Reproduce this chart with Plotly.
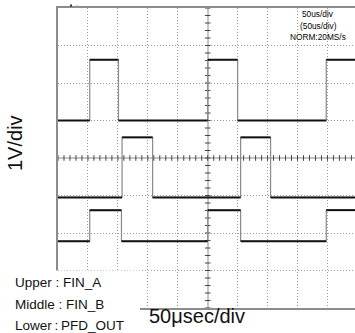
import numpy as np
import plotly.graph_objects as go

# ---- data: time in microseconds (50 us/div), voltage in volts (1 V/div) ----
T_START, T_END = -250, 246
upper_rise = [-197, 0, 198]
upper_fall = [-149, 50]
upper_levels = [1.0, 2.62]          # low, high
middle_rise = [-143, 55]
middle_fall = [-92, 105]
middle_levels = [-1.05, 0.55]
lower_rise = [-197, 0, 198]
lower_fall = [-144, 55]
lower_levels = [-2.22, -1.39]

x_label = "50μsec/div"
y_label = "1V/div"
legend_lines = ["Upper : FIN_A", "Middle : FIN_B", "Lower\u2009:\u2009PFD_OUT"]
scope_info = ["50us/div", "(50us/div)", "NORM:20MS/s"]

FONT = "Liberation Sans, Arial, sans-serif"


def step_wave(rises, falls, levels):
    low, high = levels
    events = sorted([(t, high) for t in rises] + [(t, low) for t in falls])
    xs, ys = [T_START], [low]
    px, py = [T_START], [low]
    cur = low
    for t, v in events:
        xs += [t, t]
        ys += [cur, v]
        px += [t, None, t]
        py += [cur, None, v]
        cur = v
    xs.append(T_END)
    ys.append(cur)
    px.append(T_END)
    py.append(cur)
    return xs, ys, px, py


fig = go.Figure()

# centre-line minor ticks (0.2 div)
tick_t = np.arange(-250, 250, 10)
tick_v = np.arange(-4, 4.01, 0.2)
fig.add_trace(go.Scatter(x=tick_t, y=np.zeros_like(tick_t), mode="markers",
                         marker=dict(symbol="line-ns", size=4,
                                     line=dict(color="#444", width=1)),
                         hoverinfo="skip", showlegend=False))
fig.add_trace(go.Scatter(x=np.zeros_like(tick_v), y=tick_v, mode="markers",
                         marker=dict(symbol="line-ew", size=4,
                                     line=dict(color="#444", width=1)),
                         hoverinfo="skip", showlegend=False))

for rises, falls, levels in [(upper_rise, upper_fall, upper_levels),
                             (middle_rise, middle_fall, middle_levels),
                             (lower_rise, lower_fall, lower_levels)]:
    xs, ys, px, py = step_wave(rises, falls, levels)
    fig.add_trace(go.Scatter(x=xs, y=ys, mode="lines",
                             line=dict(color="#8a8a8a", width=1.2),
                             hoverinfo="skip", showlegend=False))
    fig.add_trace(go.Scatter(x=px, y=py, mode="lines",
                             line=dict(color="#111111", width=2),
                             hoverinfo="skip", showlegend=False))

grid = dict(showgrid=True, gridcolor="#9a9a9a", griddash="1px,2px", gridwidth=1,
            zeroline=True, zerolinecolor="#c4c4c4", zerolinewidth=1.5,
            showticklabels=False, ticks="", showline=True,
            linecolor="#8c8c8c", linewidth=1.5)

fig.update_xaxes(range=[T_START, T_END], dtick=50, tick0=0, mirror=True, **grid)
fig.update_yaxes(range=[-4, 4], dtick=1, tick0=0, mirror=False, **grid)

W, H = 355, 333
L, R, T, B = 58, 0, 8, 25
pw, ph = W - L - R, H - T - B


def px2x(p):
    return (p - L) / pw


def py2y(p):
    return (H - B - p) / ph


# white panel covering lower-left corner (legend area)
fig.add_shape(type="rect", xref="paper", yref="paper",
              x0=px2x(-5), x1=px2x(140), y0=py2y(340), y1=py2y(270.5),
              fillcolor="white", line=dict(width=0), layer="above")
# small trigger marker above the top-left of the screen
fig.add_shape(type="rect", xref="paper", yref="paper",
              x0=px2x(70), x1=px2x(72), y0=py2y(6.5), y1=py2y(4.5),
              fillcolor="#333", line=dict(width=0), layer="above")
fig.add_shape(type="rect", xref="paper", yref="paper",
              x0=px2x(76), x1=px2x(79), y0=py2y(6.5), y1=py2y(5.5),
              fillcolor="#aaa", line=dict(width=0), layer="above")

ann = []
ann.append(dict(text=y_label, x=px2x(15), y=py2y(143), textangle=-90,
                font=dict(size=20, color="#111", family=FONT),
                xanchor="center", yanchor="middle"))
ann.append(dict(text=x_label, x=px2x(147), y=py2y(315.5),
                font=dict(size=20, color="#111", family=FONT),
                xanchor="left", yanchor="middle"))
for txt, yp in zip(legend_lines, [282, 304, 325.5]):
    ann.append(dict(text=txt, x=px2x(13), y=py2y(yp),
                    font=dict(size=13.5, color="#111", family=FONT),
                    xanchor="left", yanchor="middle"))
for txt, yp in zip(scope_info, [14, 25.5, 37]):
    ann.append(dict(text=txt, x=px2x(318), y=py2y(yp),
                    font=dict(size=8.3, color="#000", family=FONT),
                    xanchor="center", yanchor="middle"))
for a in ann:
    fig.add_annotation(xref="paper", yref="paper", showarrow=False, **a)

fig.update_layout(width=W, height=H, margin=dict(l=L, r=R, t=T, b=B),
                  paper_bgcolor="white", plot_bgcolor="white",
                  showlegend=False)

fig.write_html("out.html",
               config={"displayModeBar": False},
               post_script="document.body.style.margin='0';"
                           "document.body.style.overflow='hidden';")
